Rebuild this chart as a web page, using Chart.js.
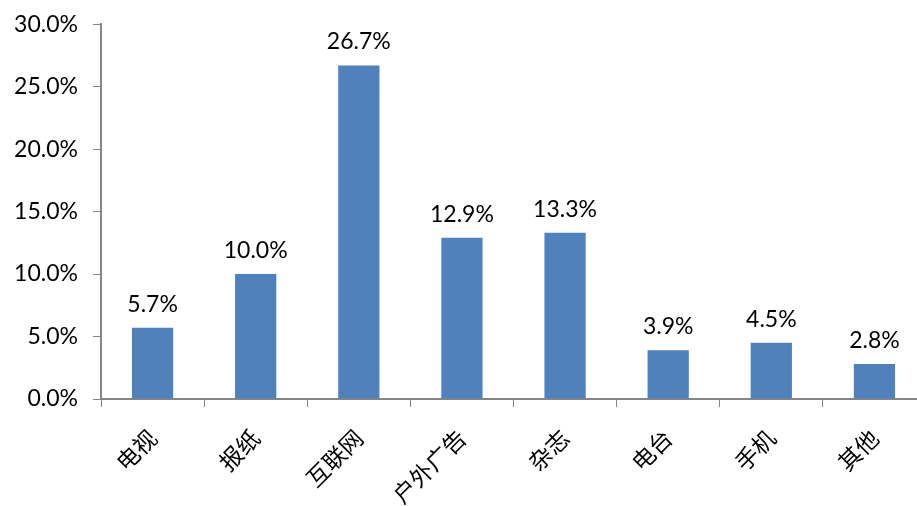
<!DOCTYPE html>
<html>
<head>
<meta charset="utf-8">
<script src="https://cdn.jsdelivr.net/npm/chart.js@4/dist/chart.umd.min.js"></script>
<style>
html,body{margin:0;padding:0;background:#fff;overflow:hidden;}
#wrap{position:relative;width:926px;height:506px;}
</style>
</head>
<body>
<div id="wrap"><canvas id="c"></canvas></div>
<script>
const categories = ['电视','报纸','互联网','户外广告','杂志','电台','手机','其他'];
const shares = [5.7, 10.0, 26.7, 12.9, 13.3, 3.9, 4.5, 2.8];
const yTicks = [0, 5, 10, 15, 20, 25, 30];

const barLabels = {
  id: 'barLabels',
  afterDatasetsDraw(chart) {
    const ctx = chart.ctx;
    const meta = chart.getDatasetMeta(0);
    ctx.save();
    ctx.font = '23px Lato, "Open Sans", sans-serif';
    ctx.fillStyle = '#000';
    ctx.textAlign = 'center';
    ctx.textBaseline = 'bottom';
    meta.data.forEach((bar, i) => {
      ctx.fillText(shares[i].toFixed(1) + '%', bar.x, bar.y - 12);
    });
    ctx.restore();
  }
};

new Chart(document.getElementById('c'), {
  type: 'bar',
  data: {
    labels: categories,
    datasets: [{
      data: shares,
      backgroundColor: '#4F81BD',
      barPercentage: 0.4,
      categoryPercentage: 1.0
    }]
  },
  options: {
    responsive: true,
    maintainAspectRatio: false,
    animation: false,
    layout: { padding: { top: 12, left: 0, right: 0, bottom: 0 } },
    plugins: { legend: { display: false }, tooltip: { enabled: false } },
    scales: {
      x: {
        grid: { display: true, drawOnChartArea: false, drawTicks: true, tickLength: 8, color: '#868686', offset: true },
        border: { color: '#868686', width: 2 },
        ticks: {
          color: '#000',
          font: { family: '"Noto Sans CJK SC", sans-serif', size: 23 },
          maxRotation: 45, minRotation: 45,
          padding: 17
        },
        afterFit(s) { s.height = 107; }
      },
      y: {
        min: 0, max: 30,
        afterBuildTicks(s) { s.ticks = yTicks.map(v => ({ value: v })); },
        grid: { display: true, drawOnChartArea: false, drawTicks: true, tickLength: 8, color: '#868686' },
        border: { color: '#868686', width: 2 },
        ticks: {
          color: '#000',
          font: { family: 'Lato, "Open Sans", sans-serif', size: 23, lineHeight: 0.8 },
          padding: 15,
          callback: v => v.toFixed(1) + '%'
        },
        afterFit(s) { s.width = 101; }
      }
    }
  },
  plugins: [barLabels]
});
</script>
</body>
</html>
